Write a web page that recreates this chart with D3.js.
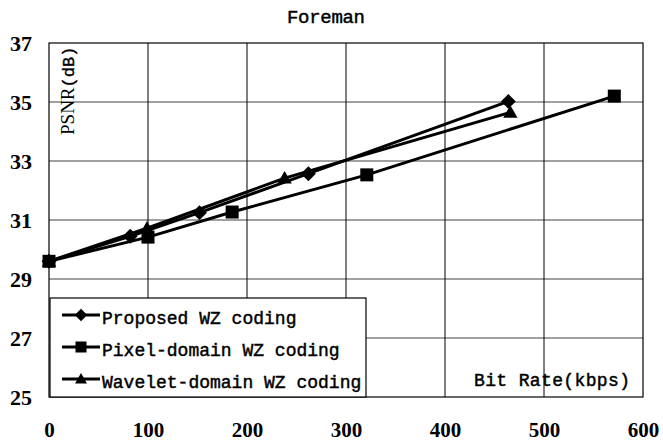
<!DOCTYPE html>
<html><head><meta charset="utf-8">
<script src="https://cdn.jsdelivr.net/npm/d3@7"></script>
<style>body{margin:0;background:#fff}</style>
</head><body>
<svg id="c" width="663" height="442"></svg>
<script>
const title = "Foreman";
const xTicks = [0,100,200,300,400,500,600];
const yTicks = [25,27,29,31,33,35,37];
const proposedX = [0, 82, 152, 262, 464];
const proposedY = [29.6, 30.45, 31.25, 32.57, 35.02];
const pixelX = [0, 100, 185, 321, 571];
const pixelY = [29.6, 30.42, 31.27, 32.53, 35.2];
const waveletX = [0, 99, 238, 466];
const waveletY = [29.6, 30.72, 32.42, 34.65];
const seriesNames = ["Proposed WZ coding", "Pixel-domain WZ coding", "Wavelet-domain WZ coding"];
const markerTypes = ["diamond", "square", "triangle"];

const svg = d3.select("#c");
const x = d3.scaleLinear().domain([0,600]).range([49,643]);
const y = d3.scaleLinear().domain([25,37]).range([397,43]);

// grid
svg.append("g").selectAll("line").data(yTicks.slice(1,-1)).join("line")
  .attr("x1", x(0)).attr("x2", x(600)).attr("y1", d=>y(d)).attr("y2", d=>y(d))
  .attr("stroke", "#808080").attr("stroke-width", 1.5);
svg.append("g").selectAll("line").data(xTicks.slice(1,-1)).join("line")
  .attr("x1", d=>x(d)).attr("x2", d=>x(d)).attr("y1", y(25)).attr("y2", y(37))
  .attr("stroke", "#000").attr("stroke-width", 1);
svg.append("rect").attr("x", x(0)).attr("y", y(37)).attr("width", x(600)-x(0)).attr("height", y(25)-y(37))
  .attr("fill", "none").attr("stroke", "#000").attr("stroke-width", 1.2);

// axes labels via d3 axes
const xAxis = svg.append("g").attr("transform", `translate(0,${y(25)})`)
  .call(d3.axisBottom(x).tickValues(xTicks).tickSize(0).tickPadding(25).tickFormat(d3.format("d")));
xAxis.select(".domain").remove();
xAxis.selectAll("text").attr("font-family", "Liberation Serif").attr("font-weight", "bold").attr("font-size", 21).attr("fill","#000");
const yAxis = svg.append("g").attr("transform", `translate(${32},0)`)
  .call(d3.axisLeft(y).tickValues(yTicks).tickSize(0).tickPadding(0).tickFormat(d3.format("d")));
yAxis.select(".domain").remove();
yAxis.selectAll("text").attr("font-family", "Liberation Serif").attr("font-weight", "bold").attr("font-size", 22).attr("fill","#000");

const monoStyle = sel => sel.attr("font-family","Liberation Mono").attr("stroke","#000").attr("stroke-width",0.45).attr("fill","#000");

// title
svg.append("text").attr("x", 326).attr("y", 23).attr("text-anchor","middle")
  .attr("font-size", 19).attr("textLength", 78).call(monoStyle).text(title);

// y label
const yl = svg.append("text").attr("transform", "translate(74,135) rotate(-90)")
  .attr("font-size", 19).attr("fill","#000");
yl.append("tspan").attr("font-family","Liberation Serif").text("PSNR");
yl.append("tspan").attr("font-family","Liberation Mono").attr("font-size",17).attr("stroke","#000").attr("stroke-width",0.4).text("(dB)");

// x label
svg.append("text").attr("x", 474).attr("y", 386)
  .attr("font-size", 18).attr("textLength", 156).call(monoStyle).text("Bit Rate(kbps)");

function marker(g, type, cx, cy, s) {
  if (type === "square") {
    g.append("rect").attr("x", cx - s/2).attr("y", cy - s/2).attr("width", s).attr("height", s).attr("fill","#000");
  } else if (type === "diamond") {
    const r = s*0.62;
    g.append("path").attr("d", `M${cx},${cy-r}L${cx+r},${cy}L${cx},${cy+r}L${cx-r},${cy}Z`).attr("fill","#000");
  } else {
    const h = s*1.0, w = s*0.6;
    g.append("path").attr("d", `M${cx},${cy-h*0.6}L${cx+w},${cy+h*0.45}L${cx-w},${cy+h*0.45}Z`).attr("fill","#000");
  }
}

const series = [
  {xs: proposedX, ys: proposedY, m: markerTypes[0]},
  {xs: pixelX, ys: pixelY, m: markerTypes[1]},
  {xs: waveletX, ys: waveletY, m: markerTypes[2]}
];
const line = d3.line().x(d=>x(d[0])).y(d=>y(d[1]));
series.forEach(s => {
  const pts = s.xs.map((v,i)=>[v, s.ys[i]]);
  svg.append("path").attr("d", line(pts)).attr("fill","none").attr("stroke","#000").attr("stroke-width", 3);
});
series.forEach(s => {
  const g = svg.append("g");
  s.xs.forEach((v,i)=> marker(g, s.m, x(v), y(s.ys[i]), s.m==="square"?13:12));
});

// legend
const lg = svg.append("g");
lg.append("rect").attr("x", 50).attr("y", 298).attr("width", 316).attr("height", 99)
  .attr("fill","#fff").attr("stroke","#000").attr("stroke-width",1.2);
const rowY = [315, 347, 379];
seriesNames.forEach((n,i)=>{
  lg.append("line").attr("x1", 62).attr("x2", 100).attr("y1", rowY[i]).attr("y2", rowY[i])
    .attr("stroke","#000").attr("stroke-width",3);
  marker(lg, markerTypes[i], 81, rowY[i], i===1?11:10);
  lg.append("text").attr("x", 102).attr("y", rowY[i]+9)
    .attr("font-size", 18).call(monoStyle).text(n);
});
</script>
</body></html>
